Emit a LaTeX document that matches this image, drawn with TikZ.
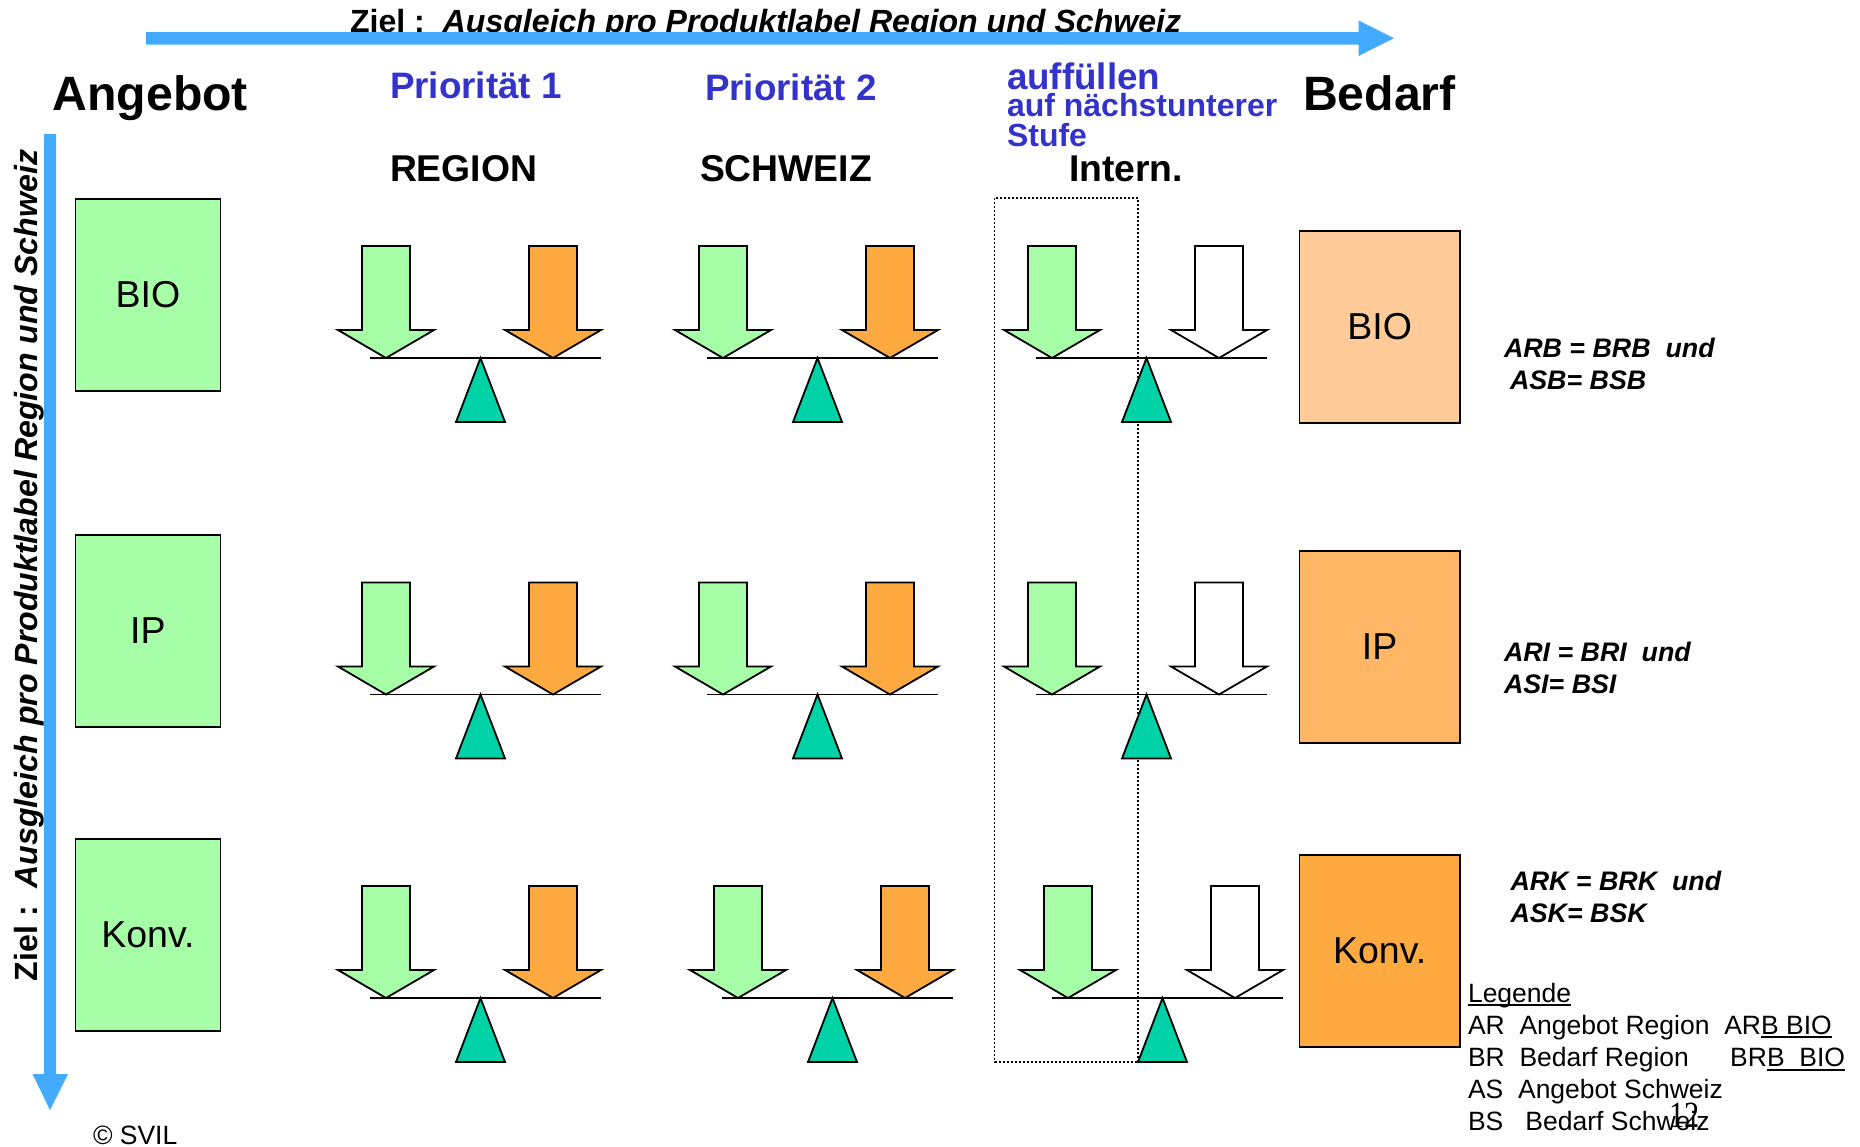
\documentclass[tikz,border=0pt]{standalone}
\usepackage{fontspec}
\setmainfont{Liberation Sans}
\newfontfamily\serifnum{Liberation Serif}
\definecolor{boxgreen}{HTML}{A6FFA6}
\definecolor{barorange}{HTML}{FFAA40}
\definecolor{peach}{HTML}{FFCC99}
\definecolor{midorange}{HTML}{FFB766}
\definecolor{teal2}{HTML}{00D2A8}
\definecolor{goalblue}{HTML}{42AAFF}
\definecolor{headblue}{HTML}{3333CC}
\newcommand\fs[1]{\fontsize{#1pt}{#1pt}\selectfont}
\newcommand\myul[1]{\setbox0\hbox{#1}\rlap{\rule[-4pt]{\wd0}{2pt}}\box0 }
\tikzset{
  lbl/.style={anchor=base west,inner sep=0pt,outer sep=0pt},
  big/.style={lbl,font=\fs{48.2}\bfseries},
  prio/.style={lbl,font=\fs{36.8}\bfseries,text=headblue},
  subprio/.style={lbl,font=\fs{32}\bfseries,text=headblue},
  column/.style={lbl,font=\fs{37.3}\bfseries},
  goal/.style={lbl,font=\fs{32.1}\bfseries},
  eqn/.style={lbl,font=\fs{26.8}\bfseries\itshape},
  legend/.style={lbl,font=\fs{26.5}},
  product/.style={draw=black,line width=1.8pt,inner sep=0pt,font=\fs{37.5},anchor=north west,text depth=-1.5pt},
  outline/.style={draw=black,line width=1.8pt,line join=miter},
}
% one balance: #1 dx, #2 dy, #3 colour of the right arrow
\newcommand\balance[3]{%
  \begin{scope}[shift={(#1,#2)}]
    \draw[line width=1.8pt] (370,358) -- (601,358);
    \draw[outline,fill=boxgreen] (362,246) -- (410,246) -- (410,330) -- (434,330) -- (386,358) -- (338,330) -- (362,330) -- cycle;
    \draw[outline,fill=#3] (529,246) -- (577,246) -- (577,330) -- (601,330) -- (553,358) -- (505,330) -- (529,330) -- cycle;
    \draw[outline,fill=teal2] (480.5,358) -- (505,422) -- (456,422) -- cycle;
  \end{scope}}
\begin{document}
\begin{tikzpicture}[x=1pt,y=-1pt]
\useasboundingbox (0,0) rectangle (1860,1146);
% goals (under the arrows)
\node[goal] (goalh) at (350,32) {Ziel :\ \ \textit{Ausgleich pro Produktlabel Region und Schweiz}};
\node[goal,rotate=90] (goalv) at (37.5,981) {Ziel :\ \ \textit{Ausgleich pro Produktlabel Region und Schweiz}};
\fill[goalblue] (146,32) -- (1358.5,32) -- (1358.5,20.5) -- (1394,38.2) -- (1358.5,56) -- (1358.5,44.5) -- (146,44.5) -- cycle;
\fill[goalblue] (44,134) -- (56,134) -- (56,1074) -- (68,1074) -- (50,1110) -- (32.5,1074) -- (44,1074) -- cycle;
% headings
\node[big] (angebot) at (52.5,110.5) {Angebot};
\node[big] (bedarf) at (1303,110.5) {Bedarf};
\node[prio] (p1) at (390,98) {Priorität 1};
\node[prio] (p2) at (705,100) {Priorität 2};
\node[prio] (fill) at (1007,89) {auffüllen};
\node[subprio] (fill2) at (1007,116) {auf nächstunterer};
\node[subprio] (fill3) at (1007,146) {Stufe};
\node[column] (region) at (390,181) {REGION};
\node[column] (schweiz) at (700,181) {SCHWEIZ};
\node[column] (intern) at (1069,181) {Intern.};
% dotted frame
\draw[line width=1.6pt,dash pattern=on 2pt off 2pt] (994.5,198) rectangle (1138,1062);
% boxes
\node[product,fill=boxgreen,minimum width=145pt,minimum height=192pt] (sbio) at (74.5,198) {BIO};
\node[product,fill=boxgreen,minimum width=145pt,minimum height=192pt] (sip) at (74.5,534) {IP};
\node[product,fill=boxgreen,minimum width=145pt,minimum height=192pt] (skonv) at (74.5,838) {Konv.};
\node[product,fill=peach,minimum width=160.5pt,minimum height=192pt] (dbio) at (1298.5,230) {BIO};
\node[product,fill=midorange,minimum width=160.5pt,minimum height=192pt] (dip) at (1298.5,550) {IP};
\node[product,fill=barorange,minimum width=160.5pt,minimum height=192pt] (dkonv) at (1298.5,854) {Konv.};
% balances
\balance{0}{0}{barorange}
\balance{337}{0}{barorange}
\balance{666}{0}{white}
\balance{0}{336.5}{barorange}
\balance{337}{336.5}{barorange}
\balance{666}{336.5}{white}
\balance{0}{640}{barorange}
\balance{352}{640}{barorange}
\balance{682}{640}{white}
% equations
\node[eqn] (e1) at (1504,357) {ARB = BRB\ \ und};
\node[eqn] (e2) at (1510,389) {ASB= BSB};
\node[eqn] (e3) at (1504,661) {ARI = BRI\ \ und};
\node[eqn] (e4) at (1504,693) {ASI= BSI};
\node[eqn] (e5) at (1510.5,890) {ARK = BRK\ \ und};
\node[eqn] (e6) at (1510.5,922) {ASK= BSK};
% legend
\node[legend] (l0) at (1468,1002) {\myul{Legende}};
\node[legend] (l1) at (1468,1034) {AR\ \ Angebot Region\ \ AR\myul{B BIO}};
\node[legend] (l2) at (1468,1066.5) {BR\ \ Bedarf Region\ \ \ \ \ \,BR\myul{B\ \ BIO}};
\node[legend] (l3) at (1468,1098) {AS\ \ Angebot Schweiz};
\node[legend] (l4) at (1468,1130) {BS\ \ \ Bedarf Schweiz};
\node[lbl,font=\serifnum\fs{37}] (page) at (1669,1127) {\scalebox{.82}[1]{12}};
\node[lbl,font=\fs{26.5}] (copy) at (93,1144) {© SVIL};
\end{tikzpicture}
\end{document}
